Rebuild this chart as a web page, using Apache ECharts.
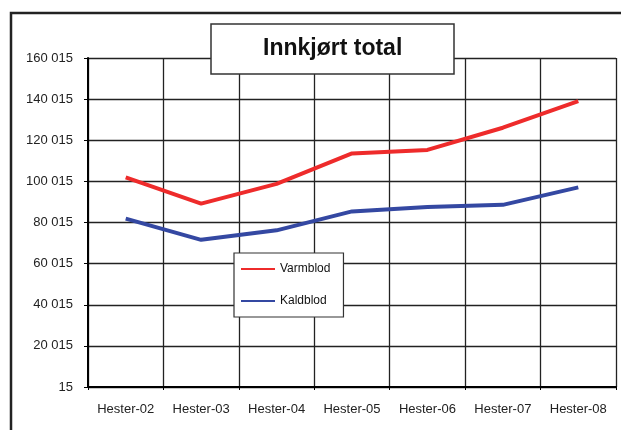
<!DOCTYPE html>
<html>
<head>
<meta charset="utf-8">
<script src="https://cdn.jsdelivr.net/npm/echarts@6/dist/echarts.min.js"></script>
<style>
html,body{margin:0;padding:0;background:#fff;}
#chart{width:621px;height:430px;}
</style>
</head>
<body>
<div id="chart"></div>
<script>
// Data
const categories = ['Hester-02','Hester-03','Hester-04','Hester-05','Hester-06','Hester-07','Hester-08'];
const varmblod = [102000, 89200, 98800, 113600, 115300, 126100, 139000];
const kaldblod = [81900, 71600, 76200, 85400, 87600, 88600, 97100];
const yTickLabels = ['15','20 015','40 015','60 015','80 015','100 015','120 015','140 015','160 015'];
const AXIS_OFFSET = 15; // axis labels start at 15 and step 20 000

const FONT = '"Liberation Sans", Arial, sans-serif';
const chart = echarts.init(document.getElementById('chart'), null, {renderer:'canvas'});

chart.setOption({
  animation: false,
  backgroundColor: '#fff',
  title: {
    text: 'Innkjørt total',
    left: 211, top: 24,
    padding: [13, 52],
    backgroundColor: '#fff',
    borderColor: '#333',
    borderWidth: 1.5,
    textStyle: {fontFamily: FONT, fontSize: 23, fontWeight: 'bold', color: '#111', lineHeight: 24}
  },
  legend: {
    orient: 'vertical',
    left: 234, top: 253,
    padding: [9, 13, 9, 7],
    itemGap: 18,
    itemWidth: 34, itemHeight: 2,
    itemTextGap: 3,
    icon: 'rect',
    backgroundColor: '#fff',
    borderColor: '#333',
    borderWidth: 1.2,
    borderRadius: 0,
    textStyle: {fontFamily: FONT, fontSize: 12, color: '#111', lineHeight: 14},
    data: ['Varmblod','Kaldblod']
  },
  grid: {left: 88, right: 5, top: 58, bottom: 43, containLabel: false},
  xAxis: {
    type: 'category',
    data: categories,
    boundaryGap: true,
    axisLine: {show: true, lineStyle: {color: '#000', width: 2}},
    axisTick: {show: true, length: 3, lineStyle: {color: '#000'}},
    axisLabel: {fontFamily: FONT, fontSize: 13, color: '#222', margin: 16, interval: 0},
    splitLine: {show: true, lineStyle: {color: '#222', width: 1.3}}
  },
  yAxis: {
    type: 'value',
    min: 0, max: 160000, interval: 20000,
    axisLine: {show: true, lineStyle: {color: '#000', width: 2}},
    axisTick: {show: true, length: 4, lineStyle: {color: '#000'}},
    axisLabel: {
      fontFamily: FONT, fontSize: 13, color: '#222', margin: 15,
      formatter: function (v) { return yTickLabels[Math.round(v / 20000)]; }
    },
    splitLine: {show: true, lineStyle: {color: '#222', width: 1.3}}
  },
  graphic: [{
    type: 'rect', silent: true, z: 100,
    shape: {x: 11, y: 13, width: 640, height: 440},
    style: {fill: null, stroke: '#222', lineWidth: 2.5}
  }],
  series: [
    {name: 'Varmblod', type: 'line', data: varmblod.map(v => v - AXIS_OFFSET),
     symbol: 'none', color: '#EE2B2B', lineStyle: {color: '#EE2B2B', width: 4}},
    {name: 'Kaldblod', type: 'line', data: kaldblod.map(v => v - AXIS_OFFSET),
     symbol: 'none', color: '#3448A2', lineStyle: {color: '#3448A2', width: 4}}
  ]
});
</script>
</body>
</html>
